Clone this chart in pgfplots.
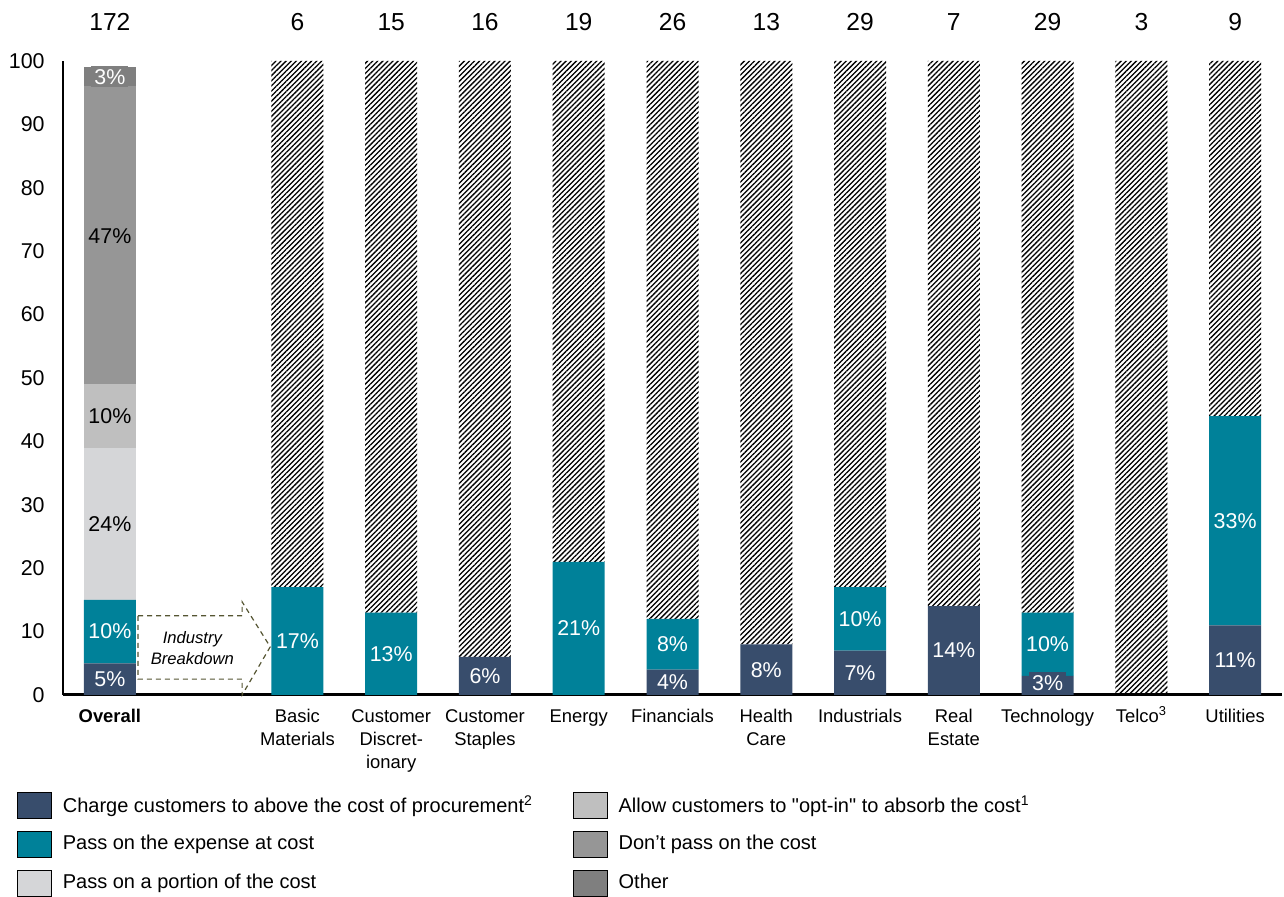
\documentclass[border=0pt]{standalone}
\usepackage{pgfplots}
\pgfplotsset{compat=1.18}
\usepackage{pgfplotstable}
\usepackage{fontspec}
\setmainfont{Liberation Sans}
\newfontfamily\qfont{Liberation Sans}[Ligatures=ResetAll]
\usetikzlibrary{patterns.meta}

\definecolor{cCharge}{RGB}{56,77,108}
\definecolor{cPass}{RGB}{0,129,153}
\definecolor{cPortion}{RGB}{213,214,216}
\definecolor{cOptin}{RGB}{191,191,191}
\definecolor{cDont}{RGB}{150,150,150}
\definecolor{cOther}{RGB}{127,127,127}
\definecolor{cArrow}{RGB}{85,85,50}

\pgfplotstableread{
x charge pass portion optin dont other hatch
0  5 10 24 10 47 3 0
2  0 17  0  0  0 0 83
3  0 13  0  0  0 0 87
4  6  0  0  0  0 0 94
5  0 21  0  0  0 0 79
6  4  8  0  0  0 0 88
7  8  0  0  0  0 0 92
8  7 10  0  0  0 0 83
9 14  0  0  0  0 0 86
10 3 10  0  0  0 0 87
11 0  0  0  0  0 0 100
12 11 33 0  0  0 0 56
}\datatable

\pgfplotsset{sqleg/.style={legend image code/.code={\fill[##1] (0pt,-6.5pt) rectangle (17pt,6.5pt);}}}
\tikzset{lab/.style={font=\fontsize{10.7}{12}\selectfont, inner sep=1.5pt},
  cnt/.style={font=\fontsize{12.3}{14}\selectfont}}

\begin{document}
\begin{tikzpicture}
\begin{axis}[
  at={(0,0)}, anchor=south west,
  scale only axis, width=609.5pt, height=317pt,
  ybar stacked, bar width=26pt,
  xmin=-0.5, xmax=12.5, ymin=0, ymax=100,
  axis x line=bottom, axis y line=left,
  x axis line style={-, line width=1.5pt},
  y axis line style={-, line width=1pt},
  xtick={0,2,3,4,5,6,7,8,9,10,11,12},
  xticklabels={\textbf{Overall},Basic\\Materials,Customer\\Discret-\\ionary,Customer\\Staples,Energy,Financials,Health\\Care,Industrials,Real\\Estate,Technology,Telco\smash{\textsuperscript{3}},Utilities},
  xticklabel style={align=center, font=\fontsize{9.2}{11.5}\selectfont, inner sep=0pt, anchor=north, yshift=-7pt},
  ytick={0,10,...,100},
  yticklabel style={font=\fontsize{10.7}{12}\selectfont, inner sep=0pt, anchor=east, xshift=-9pt},
  major tick length=0pt,
  tick style={draw=none},
  /pgf/number format/assume math mode=true,
  clip=false,
  legend columns=2,
  legend cell align=left,
  legend style={at={(axis description cs:-0.0377,-0.153)}, anchor=north west,
    draw=none, fill=none, inner sep=0pt, outer sep=0pt,
    font=\fontsize{10}{12}\selectfont,
    row sep=6pt, column sep=0pt,
    nodes={inner sep=0pt},
    /tikz/every odd column/.append style={column sep=5.5pt},
    /tikz/every even column/.append style={column sep=0pt}},
]
\addplot[fill=cCharge, draw=none, forget plot] table[x=x, y=charge]{\datatable};
\addplot[fill=cPass, draw=none, forget plot] table[x=x, y=pass]{\datatable};
\addplot[fill=cPortion, draw=none, forget plot] table[x=x, y=portion]{\datatable};
\addplot[fill=cOptin, draw=none, forget plot] table[x=x, y=optin]{\datatable};
\addplot[fill=cDont, draw=none, forget plot] table[x=x, y=dont]{\datatable};
\addplot[fill=cOther, draw=none, forget plot] table[x=x, y=other]{\datatable};
\addplot[pattern={Lines[angle=45,distance=1.8pt,line width=0.65pt]}, pattern color=black, draw=none, forget plot] table[x=x, y=hatch]{\datatable};

\addlegendimage{sqleg, fill=cCharge}
\addlegendentry{\makebox[255pt][l]{Charge customers to above the cost of procurement\textsuperscript{2}}}
\addlegendimage{sqleg, fill=cOptin}
\addlegendentry{Allow customers to {\qfont"}opt-in{\qfont"} to absorb the cost\textsuperscript{1}}
\addlegendimage{sqleg, fill=cPass}
\addlegendentry{\makebox[255pt][l]{Pass on the expense at cost}}
\addlegendimage{sqleg, fill=cDont}
\addlegendentry{Don’t pass on the cost}
\addlegendimage{sqleg, fill=cPortion}
\addlegendentry{\makebox[255pt][l]{Pass on a portion of the cost}}
\addlegendimage{sqleg, fill=cOther}
\addlegendentry{Other}

% anchor points for segment labels
\coordinate (a1) at (axis cs:0,2.5);
\coordinate (a2) at (axis cs:0,10);
\coordinate (a3) at (axis cs:0,27);
\coordinate (a4) at (axis cs:0,44);
\coordinate (a5) at (axis cs:0,72.3);
\coordinate (a6) at (axis cs:0,97.5);
\coordinate (b1) at (axis cs:2,8.5);
\coordinate (b2) at (axis cs:3,6.5);
\coordinate (b3) at (axis cs:4,3);
\coordinate (b4) at (axis cs:5,10.5);
\coordinate (b5) at (axis cs:6,8);
\coordinate (b6) at (axis cs:6,2);
\coordinate (b7) at (axis cs:7,4);
\coordinate (b8) at (axis cs:8,12);
\coordinate (b9) at (axis cs:8,3.5);
\coordinate (b10) at (axis cs:9,7);
\coordinate (b11) at (axis cs:10,8);
\coordinate (b12) at (axis cs:10,1.9);
\coordinate (b13) at (axis cs:12,27.5);
\coordinate (b14) at (axis cs:12,5.5);

% counts
\node[cnt] at (axis cs:0,106.2) {172};
\node[cnt] at (axis cs:2,106.2) {6};
\node[cnt] at (axis cs:3,106.2) {15};
\node[cnt] at (axis cs:4,106.2) {16};
\node[cnt] at (axis cs:5,106.2) {19};
\node[cnt] at (axis cs:6,106.2) {26};
\node[cnt] at (axis cs:7,106.2) {13};
\node[cnt] at (axis cs:8,106.2) {29};
\node[cnt] at (axis cs:9,106.2) {7};
\node[cnt] at (axis cs:10,106.2) {29};
\node[cnt] at (axis cs:11,106.2) {3};
\node[cnt] at (axis cs:12,106.2) {9};

% industry breakdown arrow
\draw[cArrow, line width=0.6pt, dash pattern=on 2.5pt off 2pt]
  (axis cs:0.30,12.5) -- (axis cs:1.41,12.5) -- (axis cs:1.41,14.7) -- (axis cs:1.71,7.6)
  -- (axis cs:1.41,0) -- (axis cs:1.41,2.5) -- (axis cs:0.30,2.5) -- cycle;
\node[align=center, font=\fontsize{8.3}{10.5}\selectfont\itshape] at (axis cs:0.88,7.4) {Industry\\Breakdown};
\end{axis}
% segment labels, drawn over the bars
\node[lab, text=white] at (a1) {5\%};
\node[lab, text=white] at (a2) {10\%};
\node[lab] at (a3) {24\%};
\node[lab] at (a4) {10\%};
\node[lab] at (a5) {47\%};
\node[lab, text=white, fill=cOther] at (a6) {3\%};
\node[lab, text=white] at (b1) {17\%};
\node[lab, text=white] at (b2) {13\%};
\node[lab, text=white] at (b3) {6\%};
\node[lab, text=white] at (b4) {21\%};
\node[lab, text=white] at (b5) {8\%};
\node[lab, text=white] at (b6) {4\%};
\node[lab, text=white] at (b7) {8\%};
\node[lab, text=white] at (b8) {10\%};
\node[lab, text=white] at (b9) {7\%};
\node[lab, text=white] at (b10) {14\%};
\node[lab, text=white] at (b11) {10\%};
\node[lab, text=white, fill=cCharge] at (b12) {3\%};
\node[lab, text=white] at (b13) {33\%};
\node[lab, text=white] at (b14) {11\%};
\pgfresetboundingbox
\useasboundingbox (-31.5pt,-101pt) rectangle (610.5pt,347.5pt);
\end{tikzpicture}
\end{document}
